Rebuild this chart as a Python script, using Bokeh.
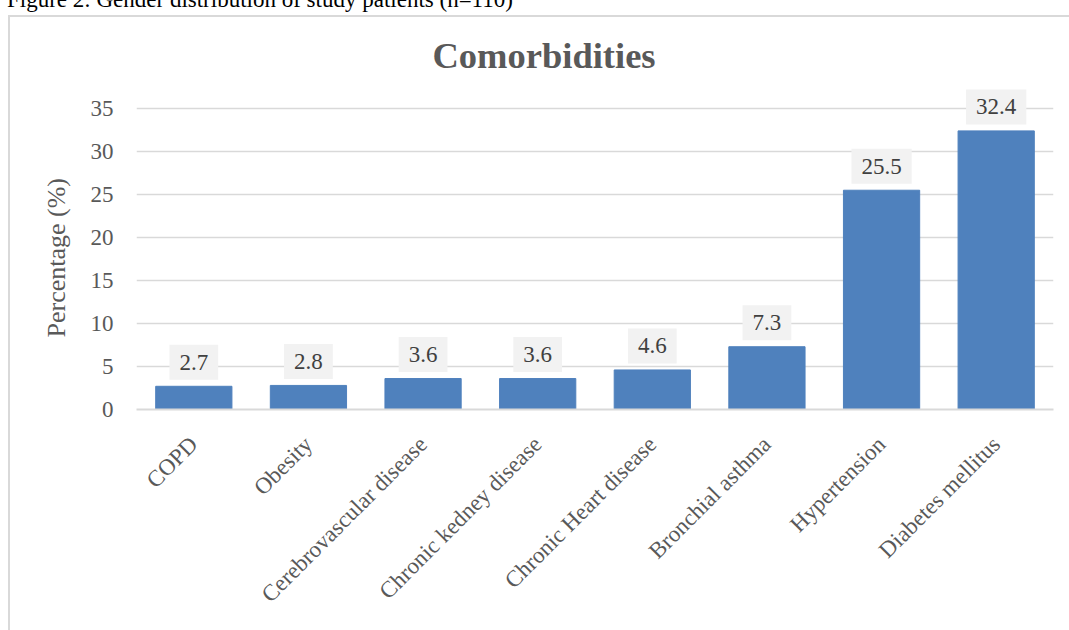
from math import pi

from bokeh.core.properties import value
from bokeh.embed import file_html
from bokeh.layouts import column
from bokeh.models import ColumnDataSource, Div, FixedTicker, Title
from bokeh.plotting import figure
from bokeh.resources import INLINE

# Prevalence of comorbidities among study patients (%)
categories = ["COPD", "Obesity", "Cerebrovascular disease", "Chronic kedney disease",
              "Chronic Heart disease", "Bronchial asthma", "Hypertension", "Diabetes mellitus"]
percentages = [2.7, 2.8, 3.6, 3.6, 4.6, 7.3, 25.5, 32.4]
y_ticks = [0, 5, 10, 15, 20, 25, 30, 35]

SERIF = "Liberation Serif"
TEXT_GREY = "#595959"
LINE_GREY = "#d9d9d9"
BAR_BLUE = "#4f81bd"

source = ColumnDataSource(dict(
    cat=categories,
    val=percentages,
    label=[f"{v:.1f}" for v in percentages],
))

p = figure(
    x_range=categories,
    y_range=(0, 38.26),
    width=1061, height=615,
    output_backend="svg", toolbar_location=None,
    min_border_left=128, min_border_right=16,
    min_border_top=65, min_border_bottom=221,
    background_fill_color="white", border_fill_color=None,
)
p.margin = (0, 0, 0, 8)
# light frame around the chart area (top and left edges)
p.styles = {"box-shadow": f"inset 2px 2px 0 0 {LINE_GREY}"}
p.outline_line_color = None
p.x_range.range_padding = 0

p.vbar(x="cat", top="val", width=0.665, source=source,
       fill_color=BAR_BLUE, line_color=BAR_BLUE, line_width=1)

# value labels on light boxes above each bar
p.text(
    x="cat", y="val", text="label", source=source,
    y_offset=-24, text_align="center", text_baseline="middle",
    text_font=value(SERIF), text_font_size="23px", text_color="#404040",
    background_fill_color="#f2f2f2",
    padding=dict(left=10, right=10, top=10, bottom=10),
)

# chart title
p.title.text = "Comorbidities"
p.title.align = "left"
p.title.offset = 296
p.title.standoff = 10
p.title.text_font = SERIF
p.title.text_font_size = "36.5px"
p.title.text_font_style = "bold"
p.title.text_color = TEXT_GREY

# y axis: labels only, horizontal grid lines
p.yaxis.ticker = FixedTicker(ticks=y_ticks)
p.yaxis.axis_line_color = None
p.yaxis.major_tick_line_color = None
p.yaxis.minor_tick_line_color = None
p.yaxis.major_tick_out = 0
p.yaxis.major_tick_in = 0
p.yaxis.major_label_standoff = 23
p.yaxis.major_label_text_font = SERIF
p.yaxis.major_label_text_font_size = "23px"
p.yaxis.major_label_text_color = TEXT_GREY

# y axis title, centred on the 0-35 span
p.add_layout(Title(
    text="Percentage (%)", align="left", offset=72, standoff=33,
    text_font=SERIF, text_font_size="26px", text_font_style="normal",
    text_color=TEXT_GREY,
), "left")

p.ygrid.grid_line_color = LINE_GREY
p.ygrid.grid_line_width = 1.5
p.xgrid.grid_line_color = None

# x axis: baseline and slanted category names
p.xaxis.axis_line_color = LINE_GREY
p.xaxis.axis_line_width = 2
p.xaxis.major_tick_line_color = None
p.xaxis.minor_tick_line_color = None
p.xaxis.major_tick_out = 0
p.xaxis.major_tick_in = 0
p.xaxis.major_label_orientation = pi / 4
p.xaxis.major_label_standoff = 31
p.xaxis.major_label_text_font = SERIF
p.xaxis.major_label_text_font_size = "23px"
p.xaxis.major_label_text_color = TEXT_GREY

# figure caption, running off the top of the page
caption = Div(
    text=(
        "<div style=\"position:relative;top:-12px;padding-left:7px;white-space:nowrap;"
        "font-family:'Liberation Serif';font-size:23px;line-height:23px;color:#000\">"
        "Figure 2: Gender distribution of study patients (n=110)</div>"
    ),
    width=1069, height=15, margin=0,
    styles={"overflow": "hidden"},
)

layout = column(caption, p, spacing=0)

open("out.html", "w").write(file_html(layout, INLINE))
